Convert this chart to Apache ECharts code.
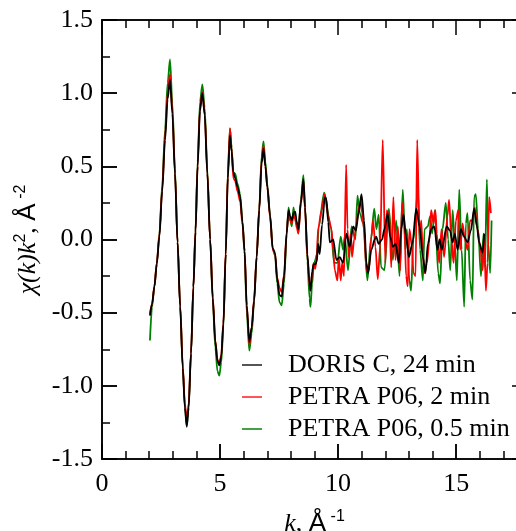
<!DOCTYPE html>
<html>
<head>
<meta charset="utf-8">
<script src="https://cdn.jsdelivr.net/npm/echarts@6/dist/echarts.min.js"></script>
<style>
  html, body { margin: 0; padding: 0; background: #fff; }
  #wrap { position: relative; width: 516px; height: 531px; }
  #main, #frame { position: absolute; left: 0; top: 0; width: 516px; height: 531px; }
  #frame { pointer-events: none; }
  #err { position: absolute; left: 0; top: 490px; width: 240px; font: 9px 'DejaVu Sans'; color: #900; white-space: pre-wrap; }
</style>
</head>
<body>
<div id="wrap">
  <div id="main"></div>
  <div id="frame"></div>
  <div id="err"></div>
</div>
<script>
// k (1/Å) vs chi(k)*k^2
const doris24 = [
  [2.03,-0.52],[2.12,-0.44],[2.22,-0.32],[2.32,-0.17],[2.43,0.02],[2.55,0.33],[2.67,0.68],[2.78,0.96],
  [2.88,1.09],[2.98,0.86],[3.09,0.45],[3.2,-0.02],[3.31,-0.46],[3.42,-0.88],[3.51,-1.15],[3.59,-1.28],
  [3.67,-1.15],[3.77,-0.78],[3.87,-0.33],[3.96,0.05],[4.05,0.5],[4.15,0.88],[4.25,1.0],[4.35,0.85],
  [4.46,0.45],[4.58,0.0],[4.69,-0.4],[4.8,-0.7],[4.89,-0.83],[4.97,-0.86],[5.05,-0.8],[5.14,-0.58],
  [5.24,-0.1],[5.33,0.42],[5.42,0.71],[5.49,0.6],[5.56,0.46],[5.64,0.42],[5.74,0.36],[5.85,0.29],
  [5.95,0.12],[6.04,-0.08],[6.13,-0.45],[6.24,-0.70],[6.34,-0.6],[6.44,-0.42],[6.55,-0.12],[6.66,0.2],
  [6.76,0.52],[6.84,0.62],[6.92,0.5],[7.0,0.36],[7.12,0.16],[7.23,-0.06],[7.33,-0.09],[7.42,-0.27],
  [7.52,-0.38],[7.61,-0.39],[7.71,-0.25],[7.82,0.04],[7.9,0.2],[7.97,0.16],[8.04,0.13],[8.11,0.18],
  [8.18,0.19],[8.25,0.12],[8.32,0.07],[8.42,0.25],[8.53,0.41],[8.6,0.22],[8.7,-0.1],[8.79,-0.3],
  [8.83,-0.35],[8.9,-0.22],[8.96,-0.17],[9.03,-0.17],[9.1,-0.15],[9.15,-0.03],[9.22,-0.1],[9.32,0.1],
  [9.44,0.29],[9.5,0.28],[9.58,0.12],[9.65,-0.02],[9.79,0.0],[9.93,-0.14],[10.07,-0.12],[10.21,-0.16],
  [10.35,0.04],[10.49,-0.05],[10.64,0.09],[10.75,0.06],[10.87,0.18],[10.99,0.31],[11.1,0.13],[11.2,-0.16],
  [11.27,-0.23],[11.41,-0.07],[11.55,0.0],[11.61,0.02],[11.72,-0.03],[11.86,0.0],[11.96,0.07],[12.1,0.18],
  [12.2,0.02],[12.32,-0.05],[12.44,-0.03],[12.57,-0.16],[12.67,0.07],[12.77,0.17],[12.88,0.02],[13.0,-0.12],
  [13.14,-0.03],[13.31,0.21],[13.45,0.09],[13.59,-0.12],[13.7,-0.23],[13.8,-0.03],[13.94,0.07],[14.07,0.09],
  [14.21,-0.07],[14.3,0.0],[14.39,-0.07],[14.6,0.09],[14.74,0.06],[14.85,-0.02],[14.94,0.04],[15.06,-0.07],
  [15.2,0.07],[15.34,0.02],[15.48,-0.02],[15.62,0.06],[15.76,0.21],[15.88,0.09],[15.97,-0.02],[16.12,-0.09],
  [16.19,0.04]
];

const petra2 = [
  [2.03,-0.51],[2.12,-0.44],[2.22,-0.32],[2.32,-0.16],[2.43,0.03],[2.55,0.35],[2.67,0.71],[2.78,1.0],
  [2.88,1.13],[2.98,0.88],[3.09,0.46],[3.2,-0.02],[3.31,-0.45],[3.42,-0.86],[3.51,-1.12],[3.59,-1.24],
  [3.67,-1.12],[3.77,-0.77],[3.87,-0.32],[3.96,0.06],[4.05,0.51],[4.15,0.9],[4.25,1.01],[4.35,0.86],
  [4.46,0.46],[4.58,0.0],[4.69,-0.39],[4.8,-0.69],[4.89,-0.82],[4.97,-0.85],[5.05,-0.79],[5.14,-0.57],
  [5.24,-0.08],[5.33,0.45],[5.42,0.76],[5.49,0.62],[5.56,0.42],[5.64,0.40],[5.74,0.33],[5.85,0.26],
  [5.95,0.1],[6.04,-0.08],[6.13,-0.45],[6.24,-0.72],[6.34,-0.6],[6.44,-0.41],[6.55,-0.11],[6.66,0.21],
  [6.76,0.54],[6.84,0.64],[6.92,0.5],[7.0,0.36],[7.12,0.15],[7.23,-0.07],[7.33,-0.1],[7.42,-0.26],
  [7.52,-0.33],[7.61,-0.36],[7.71,-0.24],[7.82,0.05],[7.9,0.19],[7.97,0.13],[8.04,0.11],[8.11,0.17],
  [8.18,0.14],[8.25,0.08],[8.32,0.04],[8.42,0.24],[8.53,0.40],[8.6,0.2],[8.7,-0.12],[8.79,-0.31],
  [8.83,-0.33],[8.9,-0.24],[8.96,-0.16],[9.03,-0.2],[9.1,-0.12],[9.15,0.07],[9.3,0.2],[9.43,0.31],
  [9.58,0.16],[9.72,0.07],[9.79,-0.07],[9.86,-0.21],[9.97,-0.28],[10.03,-0.12],[10.11,-0.28],[10.17,-0.16],
  [10.25,-0.25],[10.34,0.51],[10.4,0.07],[10.45,-0.12],[10.54,0.04],[10.59,-0.12],[10.68,0.0],[10.78,0.11],
  [10.88,0.22],[10.96,0.26],[11.02,0.18],[11.1,0.07],[11.2,-0.21],[11.3,-0.21],[11.41,0.02],[11.48,0.13],
  [11.58,-0.05],[11.68,-0.27],[11.78,-0.05],[11.89,0.68],[12.0,-0.16],[12.06,0.2],[12.17,0.16],[12.25,-0.19],
  [12.34,0.29],[12.43,-0.14],[12.53,0.09],[12.63,-0.21],[12.71,0.25],[12.81,0.09],[12.88,-0.25],[12.95,-0.32],
  [13.02,0.07],[13.13,-0.05],[13.19,-0.23],[13.28,-0.25],[13.35,0.68],[13.45,0.0],[13.52,0.13],[13.59,-0.1],
  [13.66,-0.23],[13.76,-0.16],[13.87,0.0],[13.94,0.2],[14.04,0.11],[14.12,0.2],[14.18,0.04],[14.28,-0.16],
  [14.38,0.07],[14.49,-0.12],[14.63,0.16],[14.7,0.27],[14.8,0.0],[14.89,-0.16],[14.99,0.13],[15.09,0.2],
  [15.17,-0.07],[15.27,0.11],[15.37,0.0],[15.48,-0.07],[15.59,0.13],[15.69,0.13],[15.79,0.22],[15.9,0.07],
  [16.02,-0.05],[16.12,-0.21],[16.19,0.0],[16.26,-0.35],[16.33,-0.16],[16.4,0.29],[16.47,0.18]
];

const petra05 = [
  [2.03,-0.69],[2.12,-0.46],[2.22,-0.32],[2.32,-0.16],[2.43,0.04],[2.55,0.37],[2.67,0.75],[2.78,1.07],
  [2.88,1.23],[2.98,0.93],[3.09,0.48],[3.2,-0.01],[3.31,-0.45],[3.42,-0.87],[3.51,-1.14],[3.59,-1.27],
  [3.67,-1.14],[3.77,-0.78],[3.87,-0.32],[3.96,0.07],[4.05,0.53],[4.15,0.94],[4.25,1.06],[4.35,0.9],
  [4.46,0.48],[4.58,0.0],[4.69,-0.42],[4.8,-0.74],[4.89,-0.9],[4.97,-0.93],[5.05,-0.84],[5.14,-0.6],
  [5.24,-0.1],[5.33,0.46],[5.42,0.76],[5.49,0.63],[5.56,0.46],[5.64,0.45],[5.74,0.38],[5.85,0.31],
  [5.95,0.12],[6.04,-0.1],[6.13,-0.5],[6.24,-0.76],[6.34,-0.64],[6.44,-0.43],[6.55,-0.12],[6.66,0.22],
  [6.76,0.57],[6.84,0.67],[6.92,0.53],[7.0,0.38],[7.12,0.17],[7.23,-0.06],[7.33,-0.11],[7.42,-0.3],
  [7.52,-0.43],[7.61,-0.45],[7.71,-0.3],[7.82,0.03],[7.9,0.22],[7.97,0.13],[8.04,0.09],[8.11,0.22],
  [8.18,0.14],[8.25,0.1],[8.32,0.05],[8.42,0.27],[8.53,0.44],[8.6,0.22],[8.7,-0.15],[8.79,-0.4],
  [8.83,-0.46],[8.9,-0.3],[8.96,-0.2],[9.03,-0.14],[9.1,-0.1],[9.18,0.09],[9.41,0.32],[9.69,0.09],
  [9.83,-0.16],[9.97,-0.16],[10.11,0.02],[10.21,-0.07],[10.28,0.02],[10.42,-0.21],[10.57,0.09],[10.73,0.0],
  [10.82,0.30],[10.92,0.18],[11.06,0.11],[11.24,-0.28],[11.39,0.0],[11.53,0.21],[11.62,0.07],[11.72,0.17],
  [11.82,-0.19],[11.96,-0.21],[12.15,0.21],[12.32,-0.14],[12.46,0.13],[12.6,-0.25],[12.74,0.34],[12.85,-0.07],
  [12.91,0.07],[13.02,-0.28],[13.09,-0.35],[13.19,0.0],[13.38,0.34],[13.47,-0.07],[13.59,-0.28],[13.66,0.07],
  [13.8,0.09],[13.9,0.16],[13.98,0.04],[14.1,0.2],[14.24,-0.23],[14.32,-0.3],[14.42,0.07],[14.56,0.25],
  [14.66,0.0],[14.75,-0.21],[14.85,0.2],[14.94,-0.03],[15.03,-0.28],[15.13,0.34],[15.23,-0.07],[15.34,-0.46],
  [15.41,0.11],[15.48,0.18],[15.59,-0.28],[15.69,-0.41],[15.76,0.29],[15.83,0.31],[15.93,0.07],[16.05,-0.25],
  [16.16,0.04],[16.22,-0.19],[16.3,0.41],[16.36,-0.03],[16.44,-0.23],[16.5,0.13]
];

const seriesNames = ['DORIS C, 24 min', 'PETRA P06, 2 min', 'PETRA P06, 0.5 min'];
const seriesColors = ['#000000', '#ff0000', '#008000'];
const legendColors = ['#555555', '#ff5555', '#44a044'];

const serif = 'Liberation Serif';
const sans = 'Liberation Sans';

// plot box in pixels (right edge runs past the picture, like the original)
const boxLeft = 102, boxTop = 20, boxRight = 527, boxBottom = 459;

const xMajor = { min: 0, max: 18, interval: 5 };
const xMinor = { min: 0, max: 18, interval: 1 };
const yMajor = { min: -1.5, max: 1.5, interval: 0.5 };
const yMinor = { min: -1.5, max: 1.5, interval: 0.25 };

const gridBox = {
  left: boxLeft, top: boxTop,
  width: boxRight - boxLeft, height: boxBottom - boxTop,
  outerBoundsMode: 'none'
};

function showErr(where, e) {
  document.getElementById('err').textContent += where + ': ' + (e && e.message) + '\n' + String(e && e.stack).split('\n').slice(0, 2).join('\n') + '\n';
}

// ---- frame chart first: ticks on all four sides ----
// top/right sides are bottom/left axes pushed across with a negative offset
function frameAxis(position, scale, tickLen, showLine, inside, offset) {
  return {
    type: 'value', position: position, offset: offset,
    min: scale.min, max: scale.max, interval: scale.interval,
    axisLine: { show: showLine, onZero: false, lineStyle: { color: '#000', width: 1.6 } },
    axisTick: { show: true, inside: inside, length: tickLen, lineStyle: { color: '#000', width: 1.5 } },
    axisLabel: { show: false }, splitLine: { show: false }
  };
}

try {
  let frameChart = echarts.init(document.getElementById('frame'));
  frameChart.setOption({
    animation: false,
    backgroundColor: 'transparent',
    grid: gridBox,
    xAxis: [
      frameAxis('bottom', xMajor, 15, true, true, 0),
      frameAxis('bottom', xMinor, 8, false, true, 0),
      frameAxis('bottom', xMajor, 15, true, false, -(boxBottom - boxTop)),
      frameAxis('top', xMinor, 8, true, true, 0)
    ],
    yAxis: [
      frameAxis('left', yMajor, 15, true, true, 0),
      frameAxis('left', yMinor, 8, false, true, 0),
      frameAxis('left', yMajor, 15, true, false, -(boxRight - boxLeft)),
      frameAxis('right', yMinor, 8, true, true, 0)
    ],
    series: [{ type: 'line', data: [] }]
  });
} catch (e) { showErr('frame', e); }

// ---- main chart: data, labels, names, legend ----
const nameRich = {
  i: { fontFamily: serif, fontStyle: 'italic', fontSize: 26, lineHeight: 30 },
  n: { fontFamily: serif, fontSize: 26, lineHeight: 30 },
  a: { fontFamily: sans, fontSize: 26, lineHeight: 30 },
  s: { fontFamily: sans, fontSize: 16, lineHeight: 16, verticalAlign: 'top' }
};

// one decimal on the y labels, whatever form the value comes in
function oneDecimal(v) {
  const n = (v !== null && typeof v === 'object') ? Number(v.value) : Number(v);
  return isFinite(n) ? n.toFixed(1) : String(v);
}

let myChart = echarts.init(document.getElementById('main'));

let option = {
  animation: false,
  backgroundColor: 'transparent',
  grid: gridBox,
  legend: {
    orient: 'vertical',
    left: 237,
    top: 344,
    itemWidth: 20,
    itemHeight: 2,
    itemGap: 0,
    icon: 'rect',
    selectedMode: false,
    data: seriesNames.map((n, i) => ({ name: n, itemStyle: { color: legendColors[i] } })),
    textStyle: { fontFamily: serif, fontSize: 26, lineHeight: 32, color: '#000', padding: [0, 0, 0, 21] }
  },
  xAxis: {
    type: 'value',
    min: xMajor.min, max: xMajor.max, interval: xMajor.interval,
    axisLine: { show: true, onZero: false, lineStyle: { color: '#000', width: 1.6 } },
    axisTick: { show: true, inside: true, length: 15, lineStyle: { color: '#000', width: 1.5 } },
    axisLabel: { show: true, margin: 12, showMaxLabel: false, fontFamily: serif, fontSize: 26, color: '#000' },
    splitLine: { show: false },
    name: '{i|k}{n|, }{a|Å}{s| -1}',
    nameLocation: 'middle',
    nameGap: 50,
    nameTextStyle: { color: '#000', rich: nameRich }
  },
  yAxis: {
    type: 'value',
    min: yMajor.min, max: yMajor.max, interval: yMajor.interval,
    axisLine: { show: true, onZero: false, lineStyle: { color: '#000', width: 1.6 } },
    axisTick: { show: true, inside: true, length: 15, lineStyle: { color: '#000', width: 1.5 } },
    axisLabel: { show: true, margin: 9, fontFamily: serif, fontSize: 26, color: '#000', formatter: oneDecimal },
    splitLine: { show: false },
    name: '{i|χ(k)k}{s|2}{n|, }{a|Å}{s| -2}',
    nameLocation: 'middle',
    nameGap: 50,
    nameTextStyle: { color: '#000', rich: nameRich }
  },
  series: [
    { name: seriesNames[2], data: petra05, color: seriesColors[2] },
    { name: seriesNames[1], data: petra2, color: seriesColors[1] },
    { name: seriesNames[0], data: doris24, color: seriesColors[0] }
  ].map(s => Object.assign({
    type: 'line',
    showSymbol: false,
    smooth: 0.3,
    smoothMonotone: 'x',
    lineStyle: { width: 1.8 }
  }, s))
};

try {
  myChart.setOption(option);
} catch (e) { showErr('main', e); }
</script>
</body>
</html>
